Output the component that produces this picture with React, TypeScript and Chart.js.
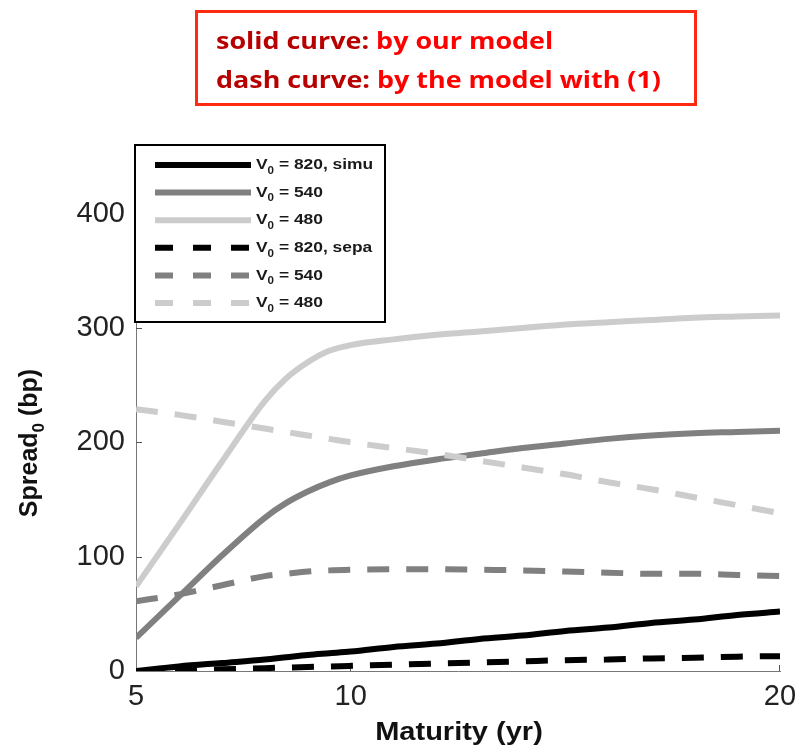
import React, { useEffect, useRef } from "react";
import { Chart, registerables } from "chart.js";

Chart.register(...registerables);

// ---- data ----
const maturity = [5, 6, 7, 8, 8.5, 9, 9.5, 10, 11, 12, 13, 14, 15, 16, 17, 18, 19, 20];
const simu820 = [0, 4, 7, 10, 12, 14, 15.5, 17, 21, 24, 28, 31, 35, 38, 42, 45, 49, 52];
const simu540 = [29, 65, 101, 134, 147, 157, 165, 171, 179, 185, 190, 195, 199, 203, 206, 208, 209, 210];
const simu480 = [74, 128, 183, 236, 256, 270, 280, 285, 290, 294, 297, 300, 303, 305, 307, 309, 310, 311];
const sepa820 = [0, 0.5, 1.5, 2.5, 3, 3.5, 4, 4.5, 5.5, 6.5, 7.5, 8.5, 9.5, 10, 11, 11.5, 12.5, 13];
const sepa540 = [61, 67, 75, 83, 85, 87, 88, 88.5, 89, 89, 88.5, 88, 87, 86, 85, 85, 84, 83];
const sepa480 = [229, 224, 218, 212, 209, 206, 203, 200, 195, 190, 184, 178, 172, 165, 159, 152, 145, 138];

const legendLabels = ["820, simu", "540", "480", "820, sepa", "540", "480"];
const xTicks = [5, 10, 20];
const yTicks = [0, 100, 200, 300, 400];
const xTitle = "Maturity (yr)";
const yTitleMain = "Spread";
const yTitleSub = "0";
const yTitleRest = " (bp)";

const W = 787;
const H = 739;
const FONT = '"Liberation Sans", Arial, sans-serif';
const STRETCH = 1.16;

const BLACK = "#000000";
const MID = "#808080";
const LIGHT = "#cccccc";
const DASH = [22, 17];

function drawSubText(
  ctx: CanvasRenderingContext2D,
  x: number,
  y: number,
  main: string,
  sub: string,
  rest: string,
  size: number,
  subSize: number,
  subOff: number
) {
  ctx.textAlign = "left";
  ctx.textBaseline = "middle";
  ctx.font = `bold ${size}px ${FONT}`;
  ctx.fillText(main, x, y);
  let cx = x + ctx.measureText(main).width;
  ctx.font = `bold ${subSize}px ${FONT}`;
  ctx.fillText(sub, cx, y + subOff);
  cx += ctx.measureText(sub).width;
  ctx.font = `bold ${size}px ${FONT}`;
  ctx.fillText(rest, cx, y);
}

function measureSub(ctx: CanvasRenderingContext2D, main: string, sub: string, rest: string, size: number, subSize: number) {
  ctx.font = `bold ${size}px ${FONT}`;
  let w = ctx.measureText(main).width + ctx.measureText(rest).width;
  ctx.font = `bold ${subSize}px ${FONT}`;
  w += ctx.measureText(sub).width;
  return w;
}

const decorPlugin = {
  id: "decor",
  beforeDatasetsDraw(chart: any) {
    const { ctx, chartArea, scales } = chart;
    ctx.save();
    ctx.strokeStyle = "#555";
    ctx.lineWidth = 1;
    ctx.beginPath();
    yTicks.forEach((v) => {
      if (v === 0) return;
      const py = Math.round(scales.y.getPixelForValue(v)) + 0.5;
      ctx.moveTo(chartArea.left, py);
      ctx.lineTo(chartArea.left + 6, py);
    });
    xTicks.forEach((v) => {
      if (v === 5) return;
      const px = Math.round(scales.x.getPixelForValue(v)) - 0.5;
      ctx.moveTo(px, chartArea.bottom);
      ctx.lineTo(px, chartArea.bottom - 6);
    });
    ctx.stroke();
    ctx.restore();
  },
  afterDatasetsDraw(chart: any) {
    const { ctx, chartArea } = chart;
    ctx.save();
    // legend box
    const bx = chartArea.left - 1;
    const by = chartArea.top;
    const bw = 250;
    const bh = 177;
    ctx.fillStyle = "#ffffff";
    ctx.fillRect(bx, by, bw, bh);
    ctx.strokeStyle = "#000";
    ctx.lineWidth = 2;
    ctx.strokeRect(bx, by, bw, bh);
    const ds = chart.data.datasets;
    ds.forEach((d: any, i: number) => {
      const ry = by + 20 + i * 27.6;
      ctx.beginPath();
      ctx.strokeStyle = d.borderColor;
      ctx.lineWidth = 6;
      ctx.lineCap = "butt";
      ctx.setLineDash(d.borderDash && d.borderDash.length ? [18, 20] : []);
      ctx.moveTo(bx + 20, ry);
      ctx.lineTo(bx + 116, ry);
      ctx.stroke();
      ctx.setLineDash([]);
      ctx.fillStyle = "#1a1a1a";
      ctx.save();
      ctx.translate(bx + 121, ry);
      ctx.scale(STRETCH, 1);
      drawSubText(ctx, 0, 0, "V", "0", " = " + legendLabels[i], 15, 10, 6);
      ctx.restore();
    });

    // axis titles
    ctx.fillStyle = "#111";
    ctx.save();
    ctx.translate((chartArea.left + chartArea.right) / 2 + 1, 732);
    ctx.scale(STRETCH, 1);
    ctx.font = `bold 25px ${FONT}`;
    ctx.textAlign = "center";
    ctx.textBaseline = "alphabetic";
    ctx.fillText(xTitle, 0, 0);
    ctx.restore();

    ctx.translate(22, 435);
    ctx.rotate(-Math.PI / 2);
    const tw = measureSub(ctx, yTitleMain, yTitleSub, yTitleRest, 25, 17);
    drawSubText(ctx, -tw / 2, 0, yTitleMain, yTitleSub, yTitleRest, 25, 17, 9);
    ctx.restore();
  },
};

export default function App() {
  const ref = useRef<HTMLCanvasElement>(null);
  useEffect(() => {
    if (!ref.current) return;
    const pts = (vals: number[]) => maturity.map((x, i) => ({ x, y: vals[i] }));
    const defs = [
      { values: simu820, color: BLACK, dash: [] as number[] },
      { values: simu540, color: MID, dash: [] as number[] },
      { values: simu480, color: LIGHT, dash: [] as number[] },
      { values: sepa820, color: BLACK, dash: DASH },
      { values: sepa540, color: MID, dash: DASH },
      { values: sepa480, color: LIGHT, dash: DASH },
    ];
    const chart = new Chart(ref.current, {
      type: "line",
      data: {
        datasets: defs.map((d, i) => ({
          label: "V0 = " + legendLabels[i],
          data: pts(d.values),
          borderColor: d.color,
          backgroundColor: d.color,
          borderWidth: 6,
          borderDash: d.dash,
          borderCapStyle: "butt",
          pointRadius: 0,
          fill: false,
          cubicInterpolationMode: "monotone",
          order: 6 - i,
        })),
      },
      options: {
        responsive: false,
        animation: false,
        events: [],
        layout: { padding: { left: 0, right: 15, top: 137, bottom: 0 } },
        plugins: { legend: { display: false }, tooltip: { enabled: false } },
        scales: {
          x: {
            type: "linear",
            min: 5,
            max: 20,
            afterBuildTicks: (s: any) => {
              s.ticks = xTicks.map((v) => ({ value: v }));
            },
            afterFit: (s: any) => {
              s.height = 76;
              s.paddingLeft = 0;
              s.paddingRight = 0;
            },
            grid: { display: false, drawTicks: false, tickLength: 0 },
            border: { display: true, color: "#777", width: 1 },
            ticks: {
              autoSkip: false,
              maxRotation: 0,
              padding: 9,
              color: "#222",
              font: { family: FONT, size: 29 },
            },
          },
          y: {
            type: "linear",
            min: 0,
            max: 460,
            afterBuildTicks: (s: any) => {
              s.ticks = yTicks.map((v) => ({ value: v }));
            },
            afterFit: (s: any) => {
              s.width = 128;
              s.paddingTop = 0;
              s.paddingBottom = 0;
            },
            grid: { display: false, drawTicks: false, tickLength: 0 },
            border: { display: true, color: "#777", width: 1 },
            ticks: {
              autoSkip: false,
              padding: 11,
              color: "#222",
              font: { family: FONT, size: 29 },
            },
          },
        },
      } as any,
      plugins: [decorPlugin],
    });
    return () => chart.destroy();
  }, []);

  const lineStyle: React.CSSProperties = {
    transform: `scaleX(${1.17})`,
    transformOrigin: "left center",
  };

  return (
    <div style={{ position: "relative", width: W, height: H }}>
      <canvas ref={ref} width={W} height={H} style={{ position: "absolute", left: 0, top: 0 }} />
      <div
        style={{
          position: "absolute",
          left: 187,
          top: 2,
          width: 502,
          height: 96,
          boxSizing: "border-box",
          border: "3px solid #ff2a12",
          background: "#fff",
          fontFamily: '"Open Sans", sans-serif',
          fontWeight: 700,
          fontSize: 23,
          lineHeight: "39px",
          paddingTop: 8,
          paddingLeft: 18,
          whiteSpace: "nowrap",
        }}
      >
        <div style={lineStyle}>
          <span style={{ color: "#b80000" }}>solid curve: </span>
          <span style={{ color: "#ff0000" }}>by our model</span>
        </div>
        <div style={lineStyle}>
          <span style={{ color: "#b80000" }}>dash curve: </span>
          <span style={{ color: "#ff0000" }}>by the model with (1)</span>
        </div>
      </div>
    </div>
  );
}
